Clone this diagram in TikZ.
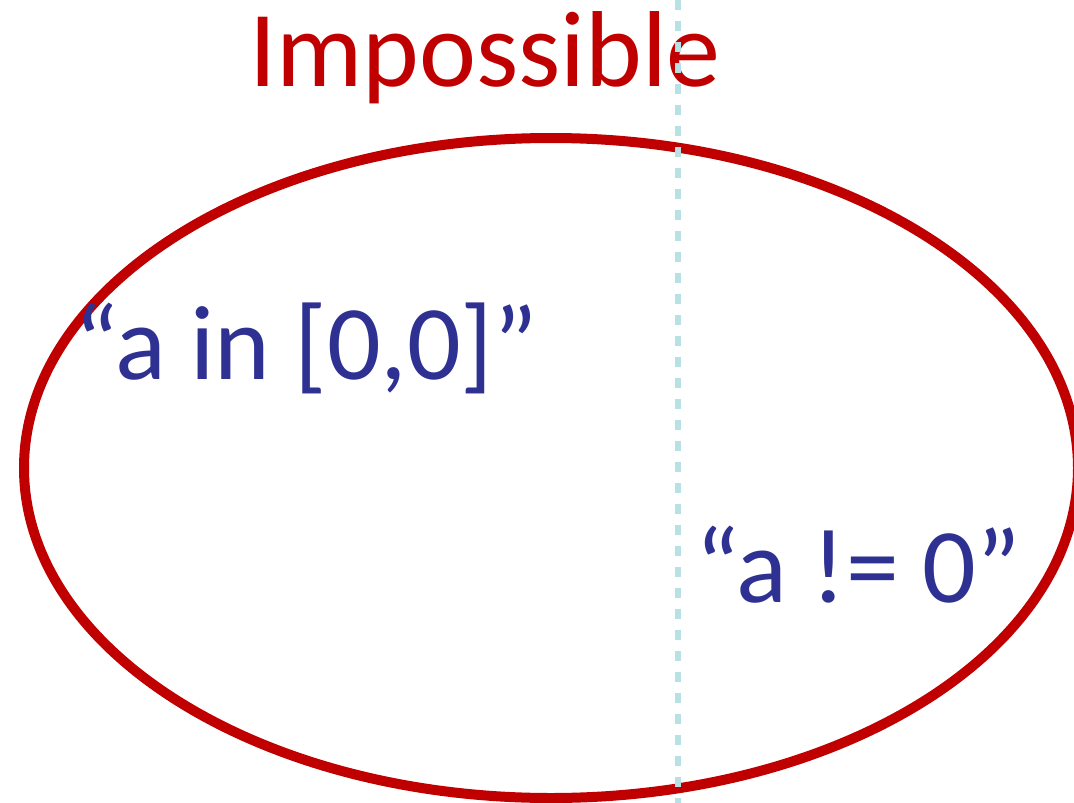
\documentclass[tikz,border=0pt]{standalone}
\usepackage{fontspec}
\setmainfont{Carlito}
\usepackage{xcolor}
\usepackage{tikz}
\usetikzlibrary{positioning}

\definecolor{setred}{RGB}{192,0,0}
\definecolor{condblue}{RGB}{46,49,146}
\definecolor{splitcyan}{RGB}{183,225,229}

\begin{document}
\begin{tikzpicture}[
    x=1pt, y=-1pt,
    title/.style={anchor=base west, inner sep=0pt, text=setred, font=\fontsize{108}{116}\selectfont},
    cond/.style={anchor=base west, inner sep=0pt, text=condblue, font=\fontsize{106}{112}\selectfont},
    setring/.style={draw=setred, line width=10pt},
    split/.style={draw=splitcyan, line width=6pt, dash pattern=on 10pt off 11pt},
]
\useasboundingbox (0,0) rectangle (1074,803);
\clip (0,0) rectangle (1074,803);

% Title above the set
\node[title] (imp) at (249,86) {Impossible};

% The set of impossible values
\draw[setring] (551,468) ellipse [x radius=527, y radius=330];

% Conditions inside the set
\node[cond] (inzero) at (74,379) {“a in [0,0]”};
\node[cond] (notzero) at (695,602) {“a != 0”};

% Dividing line
\coordinate (top) at (678,0);
\coordinate (bot) at (678,803);
\draw[split] (top) -- (bot);

\end{tikzpicture}
\end{document}
